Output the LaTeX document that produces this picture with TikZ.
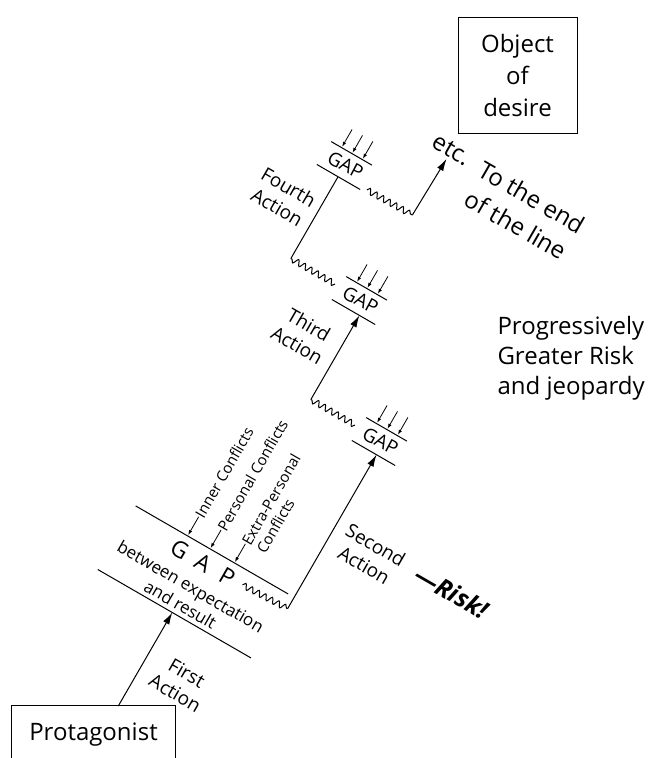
\documentclass[tikz,border=0pt]{standalone}
\usepackage{fontspec}
\setmainfont{Open Sans}
\usetikzlibrary{arrows.meta,decorations.pathmorphing,calc}
\tikzset{
  bigtxt/.style={font=\fontsize{24}{29}\selectfont},
  acttxt/.style={font=\fontsize{19}{23}\selectfont, rotate=-30, align=center, inner sep=0pt},
  conftxt/.style={font=\fontsize{15}{16}\selectfont, rotate=60, anchor=west, inner sep=0pt},
  midtxt/.style={font=\fontsize{17}{19}\selectfont, rotate=-30, inner sep=0pt},
  biggap/.style={font=\fontsize{23}{23}\selectfont, rotate=-30, inner sep=0pt},
  smgap/.style={font=\fontsize{19}{19}\selectfont, rotate=-28, inner sep=0pt},
  arr/.style={-{Latex[length=12pt,width=7pt]}},
  sarr/.style={-{Latex[length=5pt,width=3.5pt]}, line width=0.8pt},
  wave/.style={decorate, decoration={snake, segment length=7.5pt, amplitude=3pt}}
}
\begin{document}
\begin{tikzpicture}[x=1pt,y=-1pt,line width=1pt]
\useasboundingbox (0,0) rectangle (653,758);
\fill[white] (0,0) rectangle (653,758);

% Protagonist box (bottom edge falls outside the page)
\node[bigtxt, minimum width=163pt, minimum height=58pt, inner sep=0pt] (prot) at (93.5,735) {Protagonist};
\draw (prot.south west) -- (prot.north west) -- (prot.north east) -- (prot.south east);

% Object of desire
\node[draw, align=center, minimum width=119pt, minimum height=116pt, inner sep=0pt,
      font=\fontsize{24}{32}\selectfont] (obj) at (517.5,75) {Object\\of\\desire};

% Progressively ...
\node[align=left, anchor=north west, inner sep=0pt, font=\fontsize{24}{30}\selectfont]
  (prog) at (497,316) {Progressively\\Greater Risk\\and jeopardy};

% Big GAP
\begin{scope}[shift={(202,565)}, rotate=-30]
  \draw (-87,-18) -- (89,-18);
  \draw (-88,56) -- (89,56);
  \node[biggap] (G) at (-27,-2) {G};
  \node[biggap] (A) at (0,-2) {A};
  \node[biggap] (P) at (28,-2) {P};
  \node[midtxt] (betw) at (1,26) {between expectation};
  \node[midtxt] (andr) at (1,45) {and result};
  \node[conftxt] (inner) at (-27,-40) {Inner Conflicts};
  \node[conftxt] (pers) at (-1,-40) {Personal Conflicts};
  \node[conftxt] (extra) at (27,-40) {Extra-Personal};
  \node[conftxt] (confl) at (44,-40) {Conflicts};
  \coordinate (ti) at (-27,-19);
  \coordinate (tp) at (-1,-19);
  \coordinate (te) at (27,-19);
  \coordinate (a1e) at (-2,56);
  \coordinate (a1s) at (-2,164);
  \coordinate (w0) at (45,-3);
  \coordinate (c1) at (96,-5);
\end{scope}
\draw[sarr] (inner.west) -- (ti);
\draw[sarr] (pers.west) -- (tp);
\draw[sarr] (extra.west) -- (te);

% small GAPs
\foreach \n/\cx/\cy in {1/381/440,2/361/299,3/346/164}{
  \begin{scope}[shift={(\cx,\cy)},rotate=-30]
    \node[smgap] (gap\n) at (0,1) {GAP};
    \draw (-24,-12) -- (23,-12);
    \draw (-25,15) coordinate (l\n) -- (25,15) coordinate (r\n);
    \foreach \a in {-12,0,12}{\draw[sarr] (\a,-33) -- (\a,-13);}
    \coordinate (wl\n) at (-30,0);
    \coordinate (cl\n) at (-81,0);
    \coordinate (wr\n) at (31,12);
    \coordinate (cr\n) at (83,11);
  \end{scope}
}

% labels
\node[acttxt] (first) at (181,683) {First\\Action};
\node[acttxt] (second) at (370,555) {Second\\Action};
\node[acttxt] (third) at (303,335) {Third\\Action};
\node[acttxt] (fourth) at (283,197) {Fourth\\Action};
\node[rotate=-30, inner sep=0pt, font=\fontsize{25}{25}\selectfont\bfseries\itshape] (risk) at (452,592) {\textemdash Risk!};
\node[rotate=-30, inner sep=2pt, font=\fontsize{24}{24}\selectfont] (etc) at (452,150) {etc.};
\node[rotate=-30, align=center, inner sep=0pt, font=\fontsize{24}{32}\selectfont] (end) at (524,211) {To the end\\of the line};

% connectors
\draw[arr] (a1s) -- (a1e);
\draw[wave] (w0) -- (c1);
\draw[arr] (c1) -- ($(l1)!(c1)!(r1)$);
\draw[wave] (wl1) -- (cl1);
\draw[arr] (cl1) -- ($(l2)!(cl1)!(r2)$);
\draw[wave] (wl2) -- (cl2);
\draw (cl2) -- ($(l3)!(cl2)!(r3)$);
\draw[wave] (wr3) -- (cr3);
\draw[arr] (cr3) -- (etc);
\end{tikzpicture}
\end{document}
